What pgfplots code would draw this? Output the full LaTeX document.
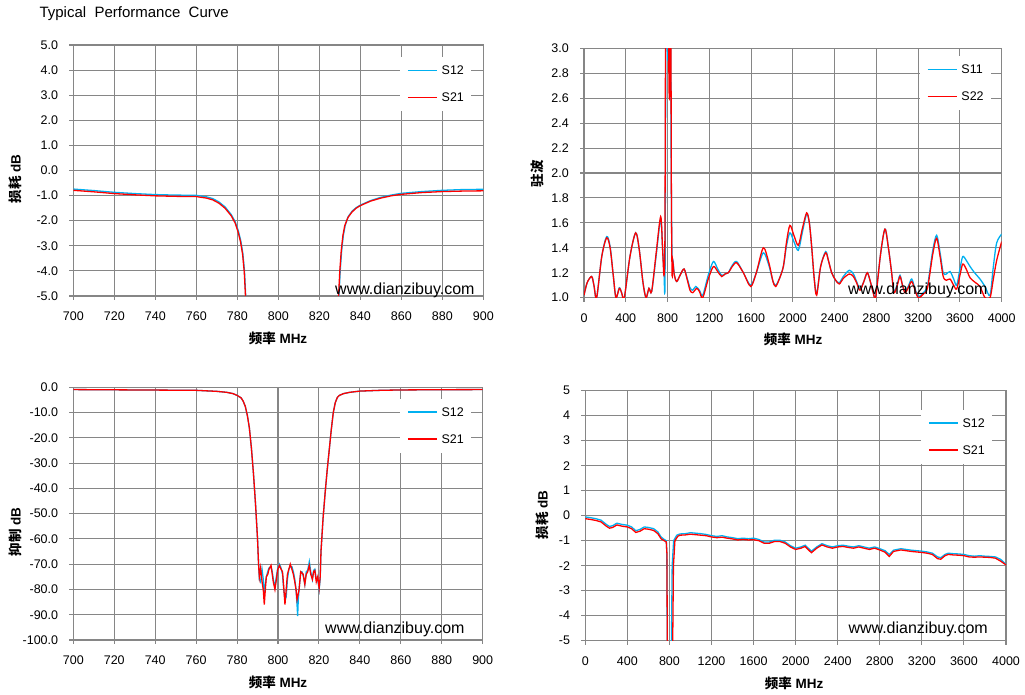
\documentclass[border=0pt]{standalone}
\usepackage{pgfplots}
\pgfplotsset{compat=1.18}
\usepackage{fontspec}
\setmainfont{Liberation Sans}
\newfontfamily\cjk{Noto Sans CJK SC}
\definecolor{gridc}{RGB}{134,134,134}
\definecolor{cyanc}{RGB}{0,176,240}
\definecolor{redc}{RGB}{255,0,0}
\newcommand\tickfont{\fontsize{12.5}{15}\selectfont}
\newcommand\labfont{\fontsize{13.5}{16}\selectfont\bfseries}
\pgfplotsset{
  myax/.style={
    scale only axis,
    axis line style={draw=gridc, line width=1.1pt},
    grid=major,
    major grid style={draw=gridc, line width=1.1pt},
    tick align=outside,
    tick pos=left,
    major tick length=4pt,
    tick style={draw=gridc, line width=1.1pt},
    ticklabel style={font=\tickfont},
    xticklabel style={inner sep=0pt},
    yticklabel style={inner sep=0pt},
    xticklabel shift=12pt,
    yticklabel shift=11pt,
    /pgf/number format/assume math mode=true,
    /pgf/number format/1000 sep={},
    legend style={draw=none, fill=white, font=\tickfont, anchor=north west,
      inner xsep=7pt, inner ysep=9pt, row sep=18pt, column sep=4pt,
      nodes={inner sep=0pt, text height=9pt, text depth=0pt}},
    legend cell align=left,
    legend image code/.code={\draw[##1, line width=1.4pt] (0pt,0pt) -- (29pt,0pt);},
  },
  onedec/.style={yticklabel={\pgfmathprintnumber[fixed,fixed zerofill,precision=1]{\tick}}},
}
\begin{document}
\begin{tikzpicture}
\path[use as bounding box] (0pt,0pt) rectangle (1025pt,695pt);

% ---------- Panel 1 ----------
\begin{axis}[myax, onedec, at={(73.3pt,399pt)}, anchor=south west,
  width=410pt, height=251pt,
  xmin=700, xmax=900, ymin=-5, ymax=5,
  xtick={700,720,...,900}, ytick={-5,-4,...,5},
  unbounded coords=jump,
  legend style={at={(0.797,0.954)}}]
\addplot[cyanc, line width=1.3pt] coordinates {
(700,-0.74)(710,-0.8)(720,-0.87)(730,-0.92)(740,-0.96)(750,-0.98)(760,-0.99)(765,-1.05)(768,-1.12)(771,-1.25)(774,-1.45)(777,-1.75)(779,-2.05)(780.5,-2.4)(781.7,-2.8)(782.7,-3.3)(783.5,-4.0)(784.1,-5.0)(784.6,-6.5)
(800,nan)
(829.1,-6.5)(829.6,-5.0)(830.2,-4.0)(830.9,-3.2)(831.7,-2.6)(832.6,-2.2)(834,-1.85)(836,-1.62)(838,-1.48)(840,-1.38)(845,-1.2)(850,-1.07)(855,-0.98)(860,-0.91)(870,-0.84)(880,-0.79)(890,-0.76)(900,-0.75)};
\addlegendentry{S12}
\addplot[redc, line width=1.3pt] coordinates {
(700,-0.79)(710,-0.85)(720,-0.92)(730,-0.97)(740,-1.01)(750,-1.03)(760,-1.04)(765,-1.1)(768,-1.17)(771,-1.3)(774,-1.5)(777,-1.8)(779,-2.1)(780.4,-2.45)(781.6,-2.85)(782.6,-3.35)(783.4,-4.05)(784.0,-5.0)(784.5,-6.5)
(800,nan)
(829,-6.5)(829.4,-5.0)(830,-4.0)(830.7,-3.2)(831.5,-2.6)(832.4,-2.2)(834,-1.87)(836,-1.65)(838,-1.5)(840,-1.4)(845,-1.22)(850,-1.1)(855,-1.01)(860,-0.95)(870,-0.88)(880,-0.84)(890,-0.82)(900,-0.81)};
\addlegendentry{S21}
\end{axis}

% ---------- Panel 2 ----------
\begin{axis}[myax, onedec, at={(584pt,397.3pt)}, anchor=south west,
  width=417.7pt, height=249.4pt,
  xmin=0, xmax=4000, ymin=1, ymax=3,
  xtick={0,400,...,4000}, ytick={1,1.2,...,3.01},
  legend style={at={(0.804,0.971)}}]
\addplot[cyanc, line width=1.3pt, smooth] coordinates {
(0,1.02)(30,1.12)(73,1.17)(95,1.1)(121,1.0)(170,1.33)(217,1.49)(250,1.41)(280,1.18)(306,1.0)(338,1.08)(360,1.04)(386,1.0)(440,1.33)(495,1.52)(530,1.38)(565,1.12)(594,1.0)(622,1.075)(648,1.05)(690,1.33)(734,1.63)(752,1.4)(766,1.2)(776,1.15)(784,3.2)(790,4.5)(798,3.2)(804,2.9)(810,3.2)(818,3.8)(826,4)(834,2.2)(842,1.38)(852,1.3)(866,1.18)(888,1.13)(920,1.18)(958,1.23)(990,1.15)(1015,1.08)(1041,1.06)(1070,1.09)(1105,1.06)(1137,1.02)(1190,1.18)(1239,1.29)(1280,1.23)(1318,1.18)(1350,1.19)(1382,1.2)(1420,1.26)(1462,1.29)(1526,1.2)(1596,1.1)(1650,1.2)(1717,1.36)(1770,1.26)(1810,1.13)(1836,1.1)(1870,1.15)(1909,1.25)(1940,1.42)(1972,1.52)(2010,1.45)(2052,1.38)(2090,1.52)(2132,1.67)(2158,1.6)(2180,1.41)(2205,1.15)(2228,1.03)(2266,1.25)(2314,1.37)(2340,1.3)(2372,1.2)(2410,1.14)(2445,1.12)(2483,1.17)(2541,1.22)(2580,1.19)(2610,1.13)(2643,1.07)(2680,1.13)(2713,1.2)(2745,1.12)(2771,1.04)(2793,1.01)(2840,1.35)(2882,1.55)(2915,1.4)(2946,1.2)(2968,1.05)(3000,1.11)(3026,1.18)(3050,1.1)(3074,1.05)(3105,1.09)(3138,1.15)(3170,1.07)(3202,1.01)(3250,1.04)(3290,1.1)(3340,1.38)(3377,1.5)(3410,1.36)(3440,1.2)(3470,1.19)(3505,1.21)(3540,1.15)(3569,1.1)(3600,1.23)(3627,1.33)(3660,1.3)(3697,1.25)(3740,1.2)(3792,1.15)(3840,1.09)(3888,1.02)(3920,1.25)(3952,1.44)(4000,1.51)};
\addlegendentry{S11}
\addplot[redc, line width=1.3pt, smooth] coordinates {
(0,1.02)(30,1.12)(73,1.17)(95,1.1)(121,1.0)(170,1.33)(217,1.48)(250,1.4)(280,1.18)(306,1.0)(338,1.075)(360,1.04)(386,1.0)(440,1.33)(495,1.52)(530,1.38)(565,1.12)(594,1.0)(622,1.075)(648,1.05)(690,1.35)(734,1.65)(752,1.4)(766,1.18)(775,1.5)(782,3.5)(790,4.5)(800,3.3)(810,3.0)(817,2.6)(823,3.3)(830,4)(836,2.0)(843,1.2)(849,1.3)(865,1.18)(888,1.13)(920,1.18)(958,1.23)(990,1.14)(1015,1.06)(1041,1.04)(1079,1.075)(1105,1.05)(1137,1.0)(1190,1.15)(1239,1.25)(1280,1.21)(1318,1.17)(1350,1.19)(1382,1.2)(1420,1.25)(1462,1.28)(1526,1.2)(1596,1.09)(1650,1.2)(1717,1.4)(1770,1.28)(1810,1.13)(1836,1.09)(1870,1.15)(1909,1.25)(1940,1.45)(1972,1.58)(2010,1.5)(2052,1.42)(2090,1.55)(2132,1.68)(2158,1.6)(2180,1.41)(2205,1.15)(2228,1.02)(2266,1.25)(2314,1.36)(2340,1.3)(2372,1.2)(2410,1.14)(2445,1.11)(2483,1.155)(2541,1.19)(2580,1.17)(2610,1.12)(2643,1.06)(2680,1.13)(2713,1.2)(2745,1.12)(2771,1.035)(2793,1.0)(2840,1.35)(2882,1.55)(2915,1.4)(2946,1.2)(2968,1.04)(3000,1.1)(3026,1.17)(3050,1.1)(3074,1.04)(3105,1.08)(3138,1.13)(3170,1.06)(3202,1.0)(3250,1.03)(3290,1.08)(3340,1.35)(3377,1.476)(3410,1.33)(3440,1.17)(3470,1.14)(3505,1.15)(3540,1.1)(3569,1.07)(3600,1.18)(3627,1.27)(3660,1.23)(3697,1.16)(3750,1.12)(3792,1.09)(3840,1.0)(3888,1.0)(3920,1.15)(3952,1.3)(4000,1.45)};
\addlegendentry{S22}
\end{axis}

% ---------- Panel 3 ----------
\begin{axis}[myax, onedec, at={(73.3pt,55pt)}, anchor=south west,
  width=409.4pt, height=252.7pt,
  xmin=700, xmax=900, ymin=-100, ymax=0,
  xtick={700,720,...,900}, ytick={-100,-90,...,0},
  legend style={at={(0.798,0.956)}}]
\addplot[cyanc, line width=1.3pt] coordinates {
(700,-0.9)(720,-1.0)(740,-1.1)(760,-1.2)(770,-1.6)(775,-2.0)(778,-2.5)(780,-3.2)(782,-4.2)(783,-5.5)(784,-7.5)(785,-11)(786,-16)(787,-24)(788,-34)(789,-46)(790,-60)(790.5,-70)
(790.9,-76)(791.5,-77)(792.2,-72)(792.8,-76)(793.3,-82)(793.8,-78)(794.3,-75)(795,-73)(795.6,-71.5)(796.6,-71)(797.2,-73)(797.7,-76)(798.5,-79)(799.2,-75)(799.9,-71.5)(800.7,-70)(801.5,-71.5)(802.2,-74)(802.8,-80)(803.4,-84)(804,-83)(804.6,-76)(805.3,-72)(806,-71)(806.8,-71)(807.5,-73)(808.2,-76)(808.8,-80)(809.3,-86)(809.6,-90.5)(809.9,-84)(810.3,-80)(811.1,-73)(811.7,-73)(812.3,-74.5)(813.1,-78)(813.8,-73)(814.5,-72.5)(815.3,-69)(816,-73)(816.8,-76)(817.4,-72.5)(818,-72)(818.7,-76)(819.4,-76)(820.1,-80)(820.6,-76)
(821,-65)(822,-52)(823,-42)(824,-33)(825,-25)(826,-17)(827,-10)(828,-6)(829,-4)(830,-3.2)(832,-2.5)(835,-2.0)(840,-1.5)(850,-1.2)(860,-1.05)(880,-0.95)(900,-0.9)};
\addlegendentry{S12}
\addplot[redc, line width=1.3pt] coordinates {
(700,-0.9)(720,-1.0)(740,-1.1)(760,-1.2)(770,-1.6)(775,-2.0)(778,-2.5)(780,-3.2)(782,-4.2)(783,-5.5)(784,-7.5)(785,-11)(786,-16)(787,-24)(788,-34)(789,-46)(790,-60)(790.5,-70)
(790.9,-75)(791.5,-71.5)(792.3,-77.5)(792.8,-80)(793.3,-86)(793.8,-80)(794.3,-75)(795,-74)(795.6,-72)(796.6,-70.5)(797.2,-74)(797.7,-77)(798.5,-80)(799.2,-76)(799.9,-72)(800.7,-70.5)(801.5,-72)(802.2,-73)(802.8,-79)(803.4,-86)(804,-80)(804.6,-74)(805.3,-72)(806,-70)(806.8,-72)(807.5,-74)(808.2,-77)(808.8,-80)(809.3,-84)(809.8,-82)(810.3,-80)(811.1,-73)(811.7,-73.5)(812.3,-74)(813.1,-78)(813.8,-74)(814.5,-73)(815.3,-70.5)(816,-74)(816.8,-76)(817.4,-73)(818,-72.5)(818.7,-77)(819.4,-75)(820.1,-79.5)(820.6,-75)
(821,-65)(822,-52)(823,-42)(824,-33)(825,-25)(826,-17)(827,-10)(828,-6)(829,-4)(830,-3.2)(832,-2.5)(835,-2.0)(840,-1.5)(850,-1.2)(860,-1.05)(880,-0.95)(900,-0.9)};
\addlegendentry{S21}
\end{axis}

% ---------- Panel 4 ----------
\begin{axis}[myax, at={(585.3pt,54.3pt)}, anchor=south west,
  width=420.7pt, height=250pt,
  xmin=0, xmax=4000, ymin=-5, ymax=5,
  xtick={0,400,...,4000}, ytick={-5,-4,...,5},
  legend style={at={(0.798,0.925)}}]
\addplot[cyanc, line width=1.3pt] coordinates {
(0,-0.05)(50,-0.08)(100,-0.12)(150,-0.18)(200,-0.35)(230,-0.43)(260,-0.4)(300,-0.3)(350,-0.35)(400,-0.38)(440,-0.45)(480,-0.6)(520,-0.55)(560,-0.45)(600,-0.47)(650,-0.52)(690,-0.65)(720,-0.85)(750,-0.95)(770,-1.0)(775,-1.5)(780,-5.5)(818,-5.5)(826,-2)(840,-1.0)(870,-0.78)(900,-0.73)(950,-0.72)(1000,-0.68)(1050,-0.7)(1100,-0.72)(1150,-0.75)(1200,-0.8)(1250,-0.83)(1300,-0.8)(1350,-0.85)(1400,-0.88)(1450,-0.92)(1500,-0.9)(1550,-0.92)(1600,-0.9)(1650,-0.95)(1700,-1.05)(1750,-1.05)(1800,-0.98)(1850,-0.98)(1900,-1.05)(1950,-1.2)(2000,-1.3)(2050,-1.25)(2090,-1.18)(2120,-1.3)(2150,-1.42)(2200,-1.25)(2250,-1.12)(2300,-1.2)(2350,-1.25)(2400,-1.2)(2450,-1.18)(2500,-1.22)(2550,-1.25)(2600,-1.2)(2650,-1.25)(2700,-1.3)(2750,-1.25)(2800,-1.32)(2850,-1.4)(2890,-1.55)(2930,-1.38)(3000,-1.32)(3050,-1.35)(3100,-1.38)(3150,-1.4)(3200,-1.42)(3250,-1.45)(3300,-1.5)(3350,-1.65)(3380,-1.68)(3420,-1.55)(3450,-1.5)(3500,-1.52)(3550,-1.53)(3600,-1.55)(3650,-1.6)(3700,-1.62)(3750,-1.6)(3800,-1.62)(3850,-1.63)(3900,-1.65)(3950,-1.75)(4000,-1.95)};
\addlegendentry{S12}
\addplot[redc, line width=1.3pt] coordinates {
(0,-0.12)(50,-0.15)(100,-0.19)(150,-0.25)(200,-0.42)(230,-0.5)(260,-0.47)(300,-0.37)(350,-0.42)(400,-0.45)(440,-0.52)(480,-0.67)(520,-0.62)(560,-0.52)(600,-0.54)(650,-0.59)(690,-0.72)(720,-0.92)(750,-1.0)(770,-1.05)(776,-1.5)(780,-5.5)(830,-5.5)(838,-2)(852,-1.0)(880,-0.82)(900,-0.78)(950,-0.77)(1000,-0.74)(1050,-0.76)(1100,-0.78)(1150,-0.8)(1200,-0.85)(1250,-0.88)(1300,-0.86)(1350,-0.9)(1400,-0.93)(1450,-0.97)(1500,-0.95)(1550,-0.97)(1600,-0.96)(1650,-1.0)(1700,-1.1)(1750,-1.1)(1800,-1.03)(1850,-1.03)(1900,-1.1)(1950,-1.25)(2000,-1.35)(2050,-1.3)(2090,-1.23)(2120,-1.36)(2150,-1.48)(2200,-1.3)(2250,-1.17)(2300,-1.25)(2350,-1.3)(2400,-1.25)(2450,-1.23)(2500,-1.27)(2550,-1.3)(2600,-1.25)(2650,-1.3)(2700,-1.35)(2750,-1.3)(2800,-1.37)(2850,-1.46)(2890,-1.63)(2930,-1.43)(3000,-1.37)(3050,-1.4)(3100,-1.43)(3150,-1.45)(3200,-1.47)(3250,-1.5)(3300,-1.55)(3350,-1.72)(3380,-1.74)(3420,-1.6)(3450,-1.55)(3500,-1.57)(3550,-1.58)(3600,-1.6)(3650,-1.65)(3700,-1.66)(3750,-1.65)(3800,-1.66)(3850,-1.67)(3900,-1.7)(3950,-1.82)(4000,-1.97)};
\addlegendentry{S21}
\end{axis}

% ---------- Texts ----------
\node[anchor=west, font=\fontsize{15}{17}\selectfont] at (36pt,681pt) {Typical\ \ Performance\ \ Curve};

\node[rotate=90, font=\labfont] at (15.5pt,516pt) {{\cjk 损耗} dB};
\node[font=\labfont] at (278pt,356.5pt) {{\cjk 频率} MHz};
\node[rotate=90, font=\labfont] at (537pt,521pt) {\cjk 驻波};
\node[font=\labfont] at (793pt,356pt) {{\cjk 频率} MHz};
\node[rotate=90, font=\labfont] at (15.5pt,163pt) {{\cjk 抑制} dB};
\node[font=\labfont] at (278pt,12.5pt) {{\cjk 频率} MHz};
\node[rotate=90, font=\labfont] at (542.5pt,180pt) {{\cjk 损耗} dB};
\node[font=\labfont] at (794pt,12pt) {{\cjk 频率} MHz};

\node[anchor=base west, inner sep=0pt, font=\fontsize{16}{18}\selectfont] at (335pt,400pt) {www.dianzibuy.com};
\node[anchor=base west, inner sep=0pt, font=\fontsize{16}{18}\selectfont] at (848pt,400pt) {www.dianzibuy.com};
\node[anchor=base west, inner sep=0pt, font=\fontsize{16}{18}\selectfont] at (325pt,61.7pt) {www.dianzibuy.com};
\node[anchor=base west, inner sep=0pt, font=\fontsize{16}{18}\selectfont] at (848.3pt,61.7pt) {www.dianzibuy.com};
\end{tikzpicture}
\end{document}
